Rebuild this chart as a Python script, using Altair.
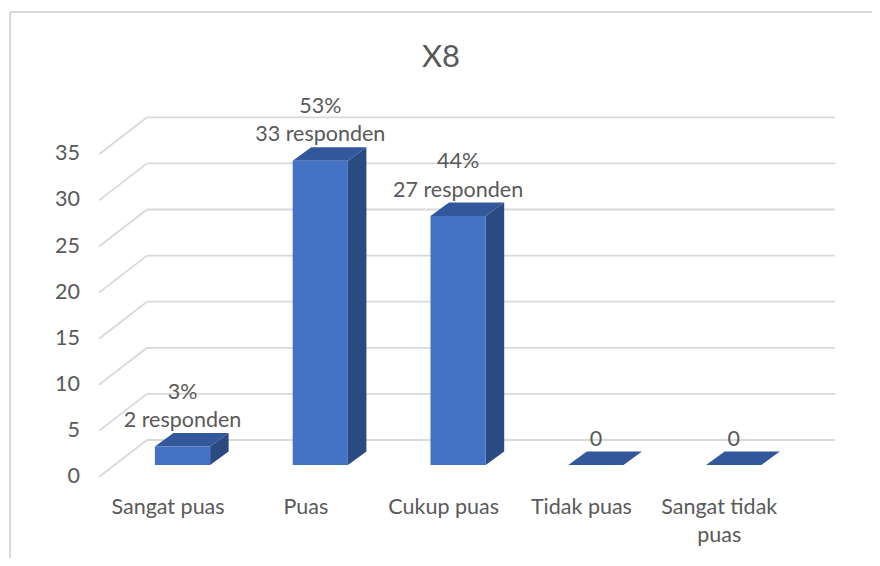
import altair as alt
import pandas as pd

# ---- data -------------------------------------------------------------
categories = ["Sangat puas", "Puas", "Cukup puas", "Tidak puas", "Sangat tidak puas"]
counts = [2, 33, 27, 0, 0]
pct_labels = ["3%", "53%", "44%", "", ""]
count_labels = ["2 responden", "33 responden", "27 responden", "0", "0"]
y_ticks = [0, 5, 10, 15, 20, 25, 30, 35]
title_text = "X8"

# ---- geometry / style constants --------------------------------------
W, H = 864, 550
PX_X = 137.8          # px per category slot
PX_Y = 9.22           # px per value unit
X0 = 182.5 - 8        # px of first category centre inside the view
Y0 = 465 - 8          # px of value 0 (front floor) inside the view
HALF = 27.6 / PX_X    # half bar width
DX = 18.5 / PX_X      # bar depth (x)
DY = 13.5 / PX_Y      # bar depth (y)
BACK = 25 / PX_Y      # back wall offset
DIAG_X = -48 / PX_X
DIAG_Y = -37 / PX_Y
GRID_L = (147 - 182.5) / PX_X
GRID_R = (835 - 182.5) / PX_X
TICK_X = (80 - 182.5) / PX_X

FONT = "Lato"
FS = 21.5
TXT = "#595959"
GRID = "#D9D9D9"
FRONT = "#4472C4"
TOP = "#32579B"
SIDE = "#2A4A82"

xs = alt.Scale(domain=[-X0 / PX_X, (W - X0) / PX_X], nice=False, zero=False)
ys = alt.Scale(domain=[-(H - Y0) / PX_Y, Y0 / PX_Y], nice=False, zero=False)


def X(f):
    return alt.X(f, type="quantitative", scale=xs, axis=None)


def Y(f):
    return alt.Y(f, type="quantitative", scale=ys, axis=None, stack=None)


# ---- frames -------------------------------------------------------------
idx = list(range(len(categories)))

grid_df = pd.DataFrame({
    "v": y_ticks,
    "yb": [v + BACK for v in y_ticks],
    "yf": [v + BACK + DIAG_Y for v in y_ticks],
    "xl": [GRID_L] * len(y_ticks),
    "xr": [GRID_R] * len(y_ticks),
    "xd": [GRID_L + DIAG_X] * len(y_ticks),
    "lab": [str(v) for v in y_ticks],
    "xt": [TICK_X] * len(y_ticks),
})

front_df = pd.DataFrame({
    "cat": categories,
    "x1": [i - HALF for i in idx],
    "x2": [i + HALF for i in idx],
    "y1": [0] * len(idx),
    "y2": counts,
})

side_rows = []
top_rows = []
for i, c, v in zip(idx, categories, counts):
    side_rows.append({"cat": c, "x": i + HALF, "y": v, "y2": 0})
    side_rows.append({"cat": c, "x": i + HALF + DX, "y": v + DY, "y2": DY})
    top_rows.append({"cat": c, "y": v, "x": i - HALF, "x2": i + HALF})
    top_rows.append({"cat": c, "y": v + DY, "x": i - HALF + DX, "x2": i + HALF + DX})
side_df = pd.DataFrame(side_rows)
top_df = pd.DataFrame(top_rows)

lab_df = pd.DataFrame({
    "x": idx,
    "y1": [v + 5.85 for v in counts],
    "y2": [v + 2.75 for v in counts],
    "pct": pct_labels,
    "cnt": count_labels,
})

cat_rows = []
for i, c in zip(idx, categories):
    lines = c.rsplit(" ", 1) if len(c) > 12 else [c]
    for k, ln in enumerate(lines):
        cat_rows.append({"x": i - 0.105, "y": -4.66 - k * 3.04, "t": ln})
cat_df = pd.DataFrame(cat_rows)

title_df = pd.DataFrame({"x": [(441 - 182.5) / PX_X], "y": [(465 - 57.5) / PX_Y], "t": [title_text]})

# ---- layers -------------------------------------------------------------
border_top = alt.Chart(title_df).mark_rule(color=GRID, strokeWidth=2).encode(
    x=alt.value(2), x2=alt.value(W), y=alt.value(4))
border_left = alt.Chart(title_df).mark_rule(color=GRID, strokeWidth=2).encode(
    x=alt.value(2), y=alt.value(4), y2=alt.value(H))

grid_h = alt.Chart(grid_df).mark_rule(color=GRID, strokeWidth=1.8).encode(
    x=X("xl"), x2="xr", y=Y("yb"))
grid_d = alt.Chart(grid_df).mark_rule(color=GRID, strokeWidth=1.8).encode(
    x=X("xd"), x2="xl", y=Y("yf"), y2="yb")
tick_txt = alt.Chart(grid_df).mark_text(
    font=FONT, fontSize=FS, color=TXT, align="right", baseline="middle").encode(
    x=X("xt"), y=Y("yf"), text="lab:N")

side = alt.Chart(side_df).mark_area(orient="vertical", color=SIDE).encode(
    x=X("x"), y=Y("y"), y2="y2", detail="cat:N")
top = alt.Chart(top_df).mark_area(orient="horizontal", color=TOP).encode(
    y=Y("y"), x=X("x"), x2="x2", detail="cat:N")
front = alt.Chart(front_df).mark_rect(color=FRONT).encode(
    x=X("x1"), x2="x2", y=Y("y1"), y2="y2")

pct_txt = alt.Chart(lab_df).mark_text(
    font=FONT, fontSize=FS, color=TXT, align="center", baseline="middle").encode(
    x=X("x"), y=Y("y1"), text="pct:N")
cnt_txt = alt.Chart(lab_df).mark_text(
    font=FONT, fontSize=FS, color=TXT, align="center", baseline="middle").encode(
    x=X("x"), y=Y("y2"), text="cnt:N")
cat_txt = alt.Chart(cat_df).mark_text(
    font=FONT, fontSize=FS, color=TXT, align="center", baseline="middle").encode(
    x=X("x"), y=Y("y"), text="t:N")
title = alt.Chart(title_df).mark_text(
    font=FONT, fontSize=31, color=TXT, align="center", baseline="middle").encode(
    x=X("x"), y=Y("y"), text="t:N")

chart = alt.layer(
    border_top, border_left, grid_h, grid_d, tick_txt,
    side, top, front, pct_txt, cnt_txt, cat_txt, title,
).properties(
    width=W, height=H,
    autosize=alt.AutoSizeParams(type="none"),
    padding=0,
).configure_view(stroke=None)

chart.save("out.html", embed_options={"renderer": "svg", "actions": False})
